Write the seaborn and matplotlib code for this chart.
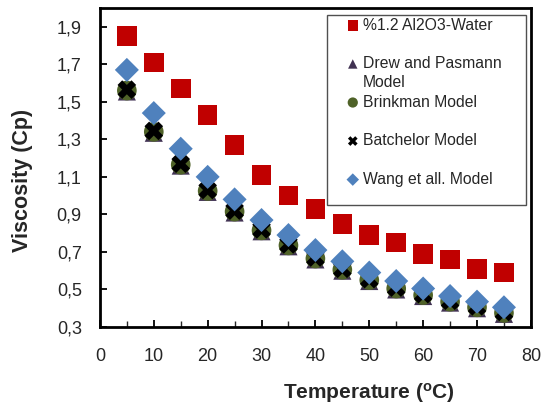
import matplotlib
matplotlib.use("Agg")
import matplotlib.pyplot as plt
import seaborn as sns
import numpy as np
from matplotlib.patches import Rectangle
from matplotlib.ticker import MultipleLocator, FuncFormatter

temperature = [5, 10, 15, 20, 25, 30, 35, 40, 45, 50, 55, 60, 65, 70, 75]
water = [1.85, 1.71, 1.57, 1.43, 1.27, 1.11, 1.00, 0.93, 0.85, 0.79, 0.75, 0.69, 0.66, 0.61, 0.59]
drew = [1.555, 1.335, 1.16, 1.02, 0.91, 0.81, 0.73, 0.66, 0.60, 0.545, 0.50, 0.465, 0.43, 0.40, 0.37]
brinkman = [1.56, 1.34, 1.165, 1.025, 0.915, 0.815, 0.735, 0.665, 0.605, 0.55, 0.505, 0.47, 0.435, 0.405, 0.375]
batchelor = [1.565, 1.345, 1.17, 1.03, 0.92, 0.82, 0.74, 0.67, 0.61, 0.555, 0.51, 0.475, 0.44, 0.41, 0.38]
wang = [1.67, 1.44, 1.25, 1.10, 0.98, 0.87, 0.79, 0.71, 0.65, 0.59, 0.545, 0.505, 0.465, 0.435, 0.405]

sns.set_style("white")
plt.rcParams['font.family'] = ['Liberation Sans', 'DejaVu Sans']
plt.rcParams['mathtext.fontset'] = 'custom'
plt.rcParams['mathtext.bf'] = 'Liberation Sans:bold'
plt.rcParams['mathtext.rm'] = 'Liberation Sans'

fig = plt.figure(figsize=(5.49, 4.09), dpi=100)
ax = fig.add_axes([0.182, 0.2005, 0.785, 0.78])

sns.scatterplot(x=temperature, y=water, marker="s", s=200, color="#C00000",
                edgecolor="none", label="%1.2 Al2O3-Water", ax=ax, zorder=3)
sns.scatterplot(x=temperature, y=drew, marker="^", s=170, color="#403152",
                edgecolor="none", label="Drew and Pasmann", ax=ax, zorder=3)
sns.scatterplot(x=temperature, y=brinkman, marker="o", s=200, color="#4F6228",
                edgecolor="none", label="Brinkman Model", ax=ax, zorder=4)
sns.scatterplot(x=temperature, y=batchelor, marker="X", s=180, color="black",
                edgecolor="none", label="Batchelor Model", ax=ax, zorder=5)
sns.scatterplot(x=temperature, y=wang, marker="D", s=150, color="#4F81BD",
                edgecolor="none", label="Wang et all. Model", ax=ax, zorder=6)

ax.set_xlim(0, 80)
ax.set_ylim(0.3, 2.0)
ax.xaxis.set_major_locator(MultipleLocator(10))
ax.xaxis.set_minor_locator(MultipleLocator(5))
ax.set_yticks(np.arange(0.3, 1.95, 0.2))
ax.yaxis.set_major_formatter(FuncFormatter(lambda v, p: f"{v:.1f}".replace(".", ",")))
ax.tick_params(axis="both", which="major", direction="in", length=5, width=1.3,
               labelsize=13, color="black")
ax.tick_params(axis="x", which="major", pad=15, bottom=True)
ax.tick_params(axis="y", which="major", pad=13, left=True)
ax.tick_params(axis="x", which="minor", direction="in", length=4, width=1.0, bottom=True)
for sp in ax.spines.values():
    sp.set_linewidth(2)
    sp.set_color("black")

ax.set_xlabel(r"Temperature ($\mathbf{^{o}}$C)", fontsize=15, fontweight="bold")
ax.set_ylabel("Viscosity (Cp)", fontsize=15.5, fontweight="bold")
ax.xaxis.set_label_coords(0.624, -0.207)
ax.yaxis.set_label_coords(-0.179, 0.458)
ax.xaxis.label.set_va("center")
ax.yaxis.label.set_va("center")

# legend box
box = Rectangle((0.527, 0.382), 0.461, 0.596, transform=ax.transAxes,
                facecolor="white", edgecolor="#505050", linewidth=1.0, zorder=7)
ax.add_patch(box)

leg = ax.legend(loc="upper left", bbox_to_anchor=(0.5685, 0.970), fontsize=11.3,
                markerscale=0.52, labelspacing=1.5, handletextpad=0.14,
                handlelength=1.0, borderpad=0, frameon=False, borderaxespad=0)
leg.set_zorder(8)
drew_text = leg.get_texts()[1]
ax.annotate("Model", xy=(0, 0), xycoords=drew_text, xytext=(0, -11.3),
            textcoords="offset points", ha="left", va="baseline",
            fontsize=11.3, zorder=9)

fig.savefig("out.png", dpi=100)
